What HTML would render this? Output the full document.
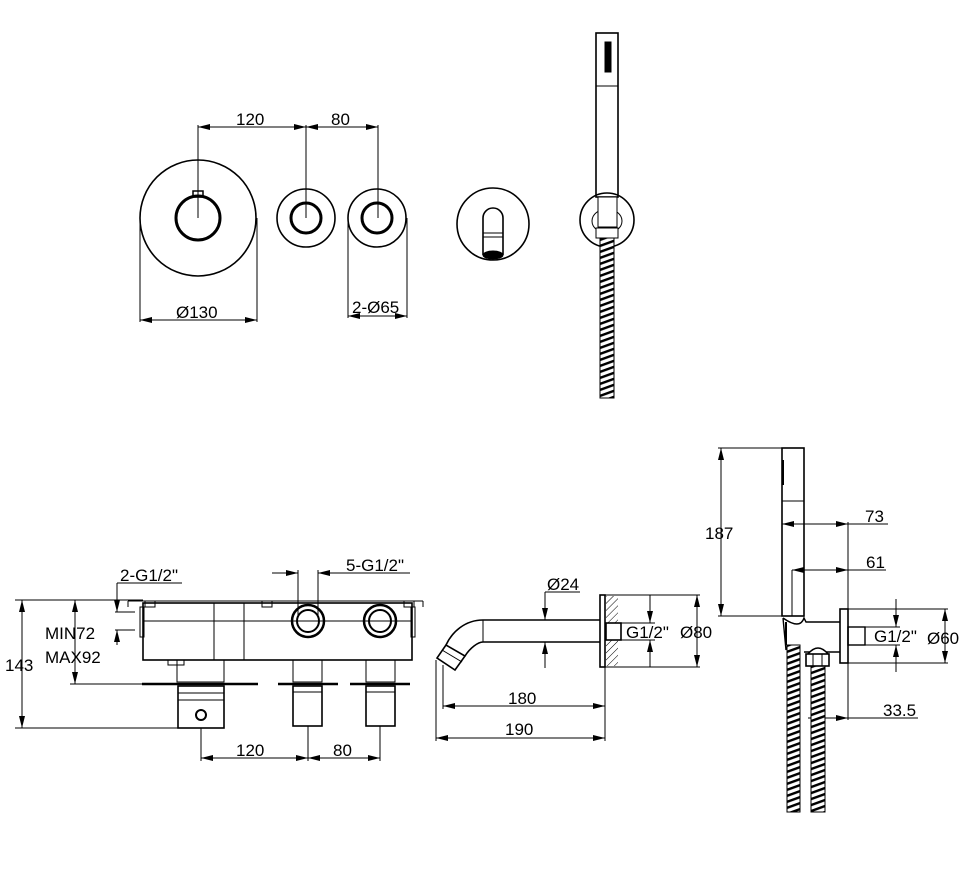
<!DOCTYPE html>
<html><head><meta charset="utf-8"><style>
html,body{margin:0;padding:0;background:#fff}
svg{display:block}
text{font-family:"Liberation Sans",sans-serif;font-size:17px;fill:#000}
</style></head><body>
<svg width="980" height="879" viewBox="0 0 980 879" xmlns="http://www.w3.org/2000/svg">
<defs>
<marker id="a" viewBox="0 0 12 6" refX="12" refY="3" markerWidth="12" markerHeight="6" markerUnits="userSpaceOnUse" orient="auto-start-reverse"><path d="M0,0L12,3L0,6z" fill="#000"/></marker>
<pattern id="hose" width="14" height="6" patternUnits="userSpaceOnUse" patternTransform="skewY(-20)"><rect width="14" height="6" fill="#fff"/><rect y="1" width="14" height="2.6" fill="#000"/></pattern>
<pattern id="hatch" width="5" height="5" patternUnits="userSpaceOnUse" patternTransform="rotate(45)"><line x1="0" y1="0" x2="0" y2="5" stroke="#000" stroke-width="1"/></pattern>
</defs>
<g fill="none" stroke="#000" stroke-width="1">
<!-- TOP ROW -->
<circle cx="198" cy="218" r="58" stroke-width="1.6"/>
<circle cx="198" cy="218" r="22" stroke-width="3"/>
<rect x="193" y="191" width="10" height="6" stroke-width="1.5"/>
<circle cx="306" cy="218" r="29" stroke-width="1.6"/>
<circle cx="306" cy="218" r="15" stroke-width="3"/>
<circle cx="377" cy="218" r="29" stroke-width="1.6"/>
<circle cx="377" cy="218" r="15" stroke-width="3"/>
<line x1="198" y1="125" x2="198" y2="218"/><line x1="306" y1="125" x2="306" y2="218"/><line x1="378" y1="125" x2="378" y2="218"/>
<line x1="198" y1="127" x2="306" y2="127" marker-start="url(#a)" marker-end="url(#a)"/>
<line x1="306" y1="127" x2="378" y2="127" marker-start="url(#a)" marker-end="url(#a)"/>
<line x1="140" y1="218" x2="140" y2="322"/><line x1="257" y1="218" x2="257" y2="322"/>
<line x1="140" y1="320" x2="257" y2="320" marker-start="url(#a)" marker-end="url(#a)"/>
<line x1="348" y1="218" x2="348" y2="318"/><line x1="407" y1="218" x2="407" y2="318"/>
<line x1="348" y1="316" x2="407" y2="316" marker-start="url(#a)" marker-end="url(#a)"/>
<!-- spout plate -->
<circle cx="493" cy="224" r="36" stroke-width="1.6"/>
<path d="M483,255V218a10,10 0 0 1 20,0V255" stroke-width="1.6"/>
<line x1="483" y1="233" x2="503" y2="233"/><line x1="483" y1="237" x2="503" y2="237"/>
<ellipse cx="493" cy="255" rx="10" ry="4" fill="#000"/>
<!-- hand shower top -->
<rect x="596" y="33" width="22" height="164" stroke-width="1.6"/>
<line x1="596" y1="86" x2="618" y2="86"/>
<rect x="605" y="42" width="6" height="30" fill="#000"/>
<circle cx="607" cy="220" r="27" stroke-width="1.6"/>
<ellipse cx="607" cy="221" rx="15" ry="12"/>
<rect x="598" y="197" width="19" height="30" fill="#fff"/>
<rect x="596" y="228" width="22" height="10" fill="#fff"/>
<rect x="600" y="238" width="14" height="160" fill="url(#hose)"/>
<!-- BOTTOM LEFT valve -->
<rect x="143" y="603" width="269" height="57" stroke-width="1.6"/>
<line x1="128" y1="601" x2="423" y2="601"/><line x1="423" y1="601" x2="423" y2="607"/><line x1="128" y1="601" x2="128" y2="607"/>
<rect x="145" y="601" width="10" height="6"/><rect x="262" y="601" width="10" height="6"/><rect x="404" y="601" width="10" height="6"/>
<rect x="140" y="607" width="4" height="30"/><rect x="411" y="607" width="4" height="30"/>
<line x1="214" y1="603" x2="214" y2="660"/><line x1="244" y1="603" x2="244" y2="660"/>
<line x1="143" y1="621" x2="412" y2="621"/>
<circle cx="308" cy="621" r="16" stroke-width="2.5"/><circle cx="308" cy="621" r="11" stroke-width="2"/>
<circle cx="380" cy="621" r="16" stroke-width="2.5"/><circle cx="380" cy="621" r="11" stroke-width="2"/>
<rect x="168" y="660" width="16" height="5"/>
<rect x="177" y="660" width="47" height="22"/>
<line x1="142" y1="684" x2="258" y2="684" stroke-width="2.5"/>
<rect x="178" y="686" width="46" height="42" stroke-width="1.6"/><line x1="178" y1="693" x2="224" y2="693"/><line x1="178" y1="700" x2="224" y2="700"/>
<circle cx="201" cy="715" r="5" stroke-width="2"/>
<rect x="293" y="660" width="29" height="22"/>
<line x1="278" y1="684" x2="338" y2="684" stroke-width="2.5"/>
<rect x="293" y="686" width="29" height="40" stroke-width="1.6"/><line x1="293" y1="692" x2="322" y2="692"/>
<rect x="366" y="660" width="29" height="22"/>
<line x1="350" y1="684" x2="410" y2="684" stroke-width="2.5"/>
<rect x="366" y="686" width="29" height="40" stroke-width="1.6"/><line x1="366" y1="692" x2="395" y2="692"/>
<!-- dims -->
<line x1="15" y1="600" x2="143" y2="600"/><line x1="15" y1="728" x2="178" y2="728"/>
<line x1="22" y1="600" x2="22" y2="728" marker-start="url(#a)" marker-end="url(#a)"/>
<line x1="70" y1="684" x2="142" y2="684"/>
<line x1="75" y1="600" x2="75" y2="684" marker-start="url(#a)" marker-end="url(#a)"/>
<line x1="115" y1="612" x2="135" y2="612"/><line x1="115" y1="630" x2="135" y2="630"/>
<line x1="117" y1="583" x2="117" y2="612" marker-end="url(#a)"/><line x1="117" y1="645" x2="117" y2="630" marker-end="url(#a)"/>
<line x1="117" y1="583" x2="182" y2="583"/>
<line x1="272" y1="573" x2="298" y2="573" marker-end="url(#a)"/><line x1="340" y1="573" x2="318" y2="573" marker-end="url(#a)"/>
<line x1="318" y1="573" x2="410" y2="573"/>
<line x1="298" y1="570" x2="298" y2="616"/><line x1="318" y1="570" x2="318" y2="616"/>
<line x1="201" y1="728" x2="201" y2="761"/><line x1="308" y1="726" x2="308" y2="761"/><line x1="380" y1="726" x2="380" y2="761"/>
<line x1="201" y1="758" x2="308" y2="758" marker-start="url(#a)" marker-end="url(#a)"/>
<line x1="308" y1="758" x2="380" y2="758" marker-start="url(#a)" marker-end="url(#a)"/>
<!-- SPOUT -->
<path d="M483,620H600M483,642H600" stroke-width="1.6"/>
<line x1="483" y1="620" x2="483" y2="642"/>
<path d="M483,620C465,620 452,632 446,645" stroke-width="1.6"/>
<path d="M483,642C478,642 470,648 465,656" stroke-width="1.6"/>
<path d="M446,645L437,658L455,670L465,656Z" stroke-width="1.6"/>
<line x1="442" y1="650" x2="462" y2="662"/>
<rect x="600" y="595" width="5" height="72" stroke-width="1.6"/>
<rect x="606" y="596" width="12" height="70" fill="url(#hatch)" stroke="none"/>
<rect x="606" y="623" width="15" height="17" fill="#fff" stroke-width="1.6"/>
<line x1="605" y1="595" x2="700" y2="595"/><line x1="605" y1="667" x2="700" y2="667"/>
<line x1="621" y1="623" x2="655" y2="623"/><line x1="621" y1="640" x2="655" y2="640"/>
<line x1="697" y1="595" x2="697" y2="667" marker-start="url(#a)" marker-end="url(#a)"/>
<line x1="650" y1="595" x2="650" y2="623" marker-end="url(#a)"/><line x1="650" y1="667" x2="650" y2="640" marker-end="url(#a)"/>
<line x1="545" y1="592" x2="545" y2="620" marker-end="url(#a)"/><line x1="545" y1="668" x2="545" y2="642" marker-end="url(#a)"/>
<line x1="545" y1="592" x2="580" y2="592"/>
<line x1="443" y1="665" x2="443" y2="709"/><line x1="436" y1="660" x2="436" y2="741"/><line x1="605" y1="667" x2="605" y2="741"/>
<line x1="443" y1="706" x2="605" y2="706" marker-start="url(#a)" marker-end="url(#a)"/>
<line x1="436" y1="738" x2="605" y2="738" marker-start="url(#a)" marker-end="url(#a)"/>
<!-- HAND SHOWER RIGHT -->
<rect x="782" y="448" width="22" height="168" stroke-width="1.6"/>
<line x1="782" y1="501" x2="804" y2="501"/>
<line x1="783" y1="460" x2="783" y2="485" stroke-width="2"/>
<line x1="792" y1="570" x2="792" y2="616"/>
<line x1="718" y1="448" x2="782" y2="448"/><line x1="718" y1="616" x2="782" y2="616"/>
<line x1="721" y1="448" x2="721" y2="616" marker-start="url(#a)" marker-end="url(#a)"/>
<path d="M783,618L786,650M783,618Q800,630 804,618L806,622H840M804,652H840" stroke-width="1.4"/>
<path d="M786,622V645" stroke-width="2"/>
<rect x="840" y="609" width="8" height="54" stroke-width="1.6"/>
<rect x="848" y="627" width="17" height="18" stroke-width="1.4"/>
<line x1="848" y1="522" x2="848" y2="720"/>
<line x1="782" y1="524" x2="848" y2="524" marker-start="url(#a)" marker-end="url(#a)"/><line x1="848" y1="524" x2="888" y2="524"/>
<line x1="792" y1="570" x2="848" y2="570" marker-start="url(#a)" marker-end="url(#a)"/><line x1="848" y1="570" x2="886" y2="570"/>
<line x1="848" y1="609" x2="948" y2="609"/><line x1="848" y1="663" x2="948" y2="663"/>
<line x1="865" y1="627" x2="900" y2="627"/><line x1="865" y1="645" x2="900" y2="645"/>
<line x1="945" y1="609" x2="945" y2="663" marker-start="url(#a)" marker-end="url(#a)"/>
<line x1="896" y1="599" x2="896" y2="627" marker-end="url(#a)"/><line x1="896" y1="672" x2="896" y2="645" marker-end="url(#a)"/>
<line x1="808" y1="718" x2="848" y2="718" marker-start="url(#a)" marker-end="url(#a)"/><line x1="848" y1="718" x2="918" y2="718"/>
<rect x="787" y="645" width="13" height="167" fill="url(#hose)" stroke-width="1"/>
<rect x="811" y="665" width="14" height="147" fill="url(#hose)" stroke-width="1"/>
<path d="M808,654Q818,642 828,654" stroke-width="1.4" fill="#fff"/>
<rect x="806" y="654" width="23" height="12" fill="#fff" stroke-width="1.6"/>
<line x1="813" y1="654" x2="813" y2="666"/><line x1="822" y1="654" x2="822" y2="666"/>
</g>
<g>
<text x="236" y="125">120</text><text x="331" y="125">80</text>
<text x="176" y="318">Ø130</text><text x="352" y="313">2-Ø65</text>
<text x="120" y="581">2-G1/2"</text><text x="346" y="571">5-G1/2"</text>
<text x="45" y="639">MIN72</text><text x="45" y="663">MAX92</text>
<text x="5" y="671">143</text>
<text x="236" y="756">120</text><text x="333" y="756">80</text>
<text x="547" y="590">Ø24</text>
<text x="626" y="638">G1/2"</text><text x="680" y="638">Ø80</text>
<text x="508" y="704">180</text><text x="505" y="735">190</text>
<text x="705" y="539">187</text>
<text x="865" y="522">73</text><text x="866" y="568">61</text>
<text x="874" y="642">G1/2"</text><text x="927" y="644">Ø60</text>
<text x="883" y="716">33.5</text>
</g>
</svg>
</body></html>
